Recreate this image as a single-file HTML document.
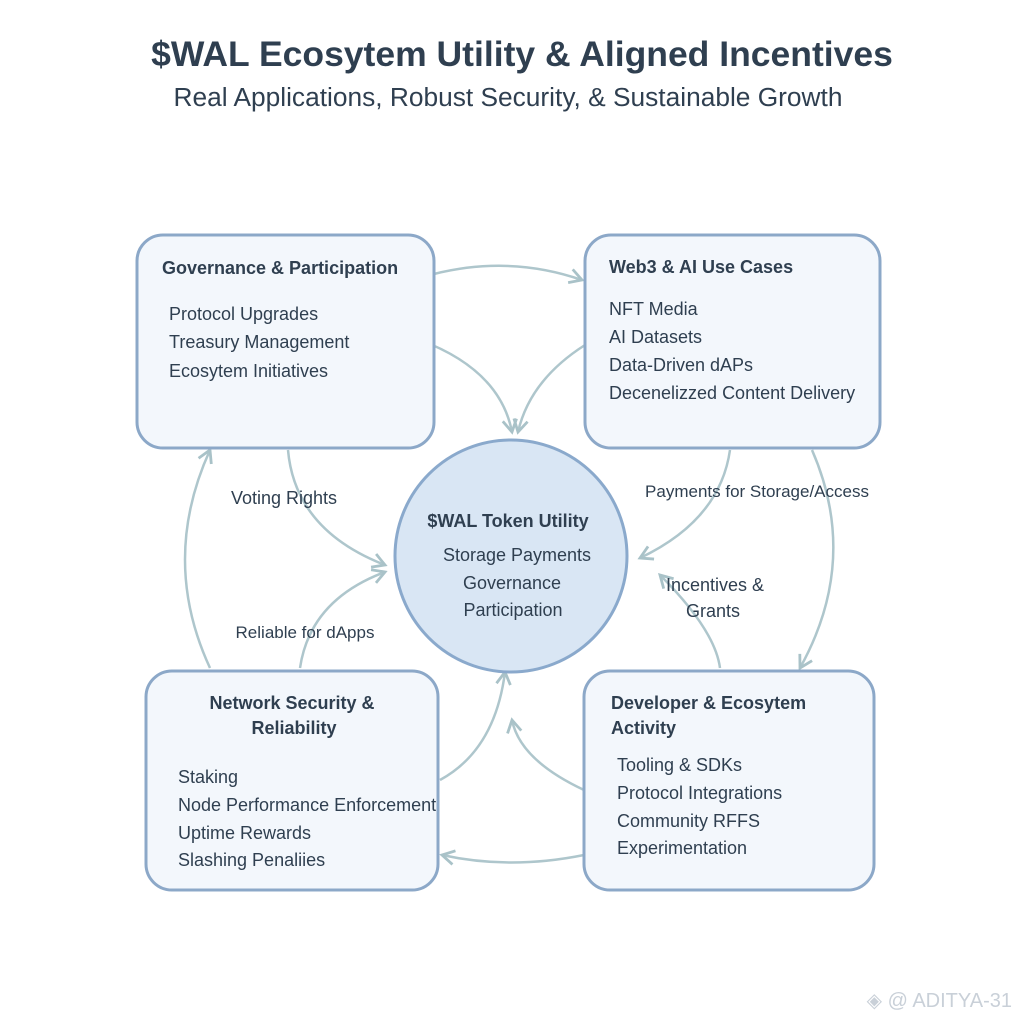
<!DOCTYPE html>
<html><head><meta charset="utf-8"><style>
html,body{margin:0;padding:0;background:#fff}
svg{display:block}
text{font-family:"Liberation Sans","DejaVu Sans",sans-serif;fill:#2f3f50}
</style></head><body>
<svg width="1024" height="1024" viewBox="0 0 1024 1024" xmlns="http://www.w3.org/2000/svg">
<defs>
<marker id="a" viewBox="0 0 10 10" refX="8" refY="5" markerWidth="7" markerHeight="7" orient="auto-start-reverse">
<path d="M1,1 L8,5 L1,9" fill="none" stroke="#a9c2c8" stroke-width="1.6"/>
</marker>
</defs>
<text x="522" y="66" text-anchor="middle" font-size="35.5" font-weight="bold" fill="#2b3f52">$WAL Ecosytem Utility &amp; Aligned Incentives</text>
<text x="508" y="106" text-anchor="middle" font-size="26.3">Real Applications, Robust Security, &amp; Sustainable Growth</text>

<g fill="none" stroke="#aec6cc" stroke-width="2.5" marker-end="url(#a)">
<path d="M434,274 Q510,255 582,280"/>
<path d="M420,340 Q500,370 512,432"/>
<path d="M585,345 Q530,380 518,432"/>
<path d="M288,450 Q295,530 385,565"/>
<path d="M300,668 Q310,600 385,572"/>
<path d="M210,668 Q160,560 210,450"/>
<path d="M730,450 Q720,520 640,558"/>
<path d="M812,450 Q860,560 800,668"/>
<path d="M720,668 Q715,630 660,575"/>
<path d="M440,780 Q495,750 505,672"/>
<path d="M584,790 Q520,760 512,720"/>
<path d="M584,855 Q510,870 442,855"/>
</g>

<g fill="#f3f7fc" stroke="#8ca8c8" stroke-width="3">
<rect x="137" y="235" width="297" height="213" rx="26"/>
<rect x="585" y="235" width="295" height="213" rx="26"/>
<rect x="146" y="671" width="292" height="219" rx="26"/>
<rect x="584" y="671" width="290" height="219" rx="26"/>
</g>
<circle cx="511" cy="556" r="116" fill="#d9e6f4" stroke="#8aa9cc" stroke-width="3"/>

<g font-size="18">
<text x="162" y="274" font-weight="bold">Governance &amp; Participation</text>
<text x="169" y="320">Protocol Upgrades</text>
<text x="169" y="348">Treasury Management</text>
<text x="169" y="377">Ecosytem Initiatives</text>

<text x="609" y="273" font-weight="bold">Web3 &amp; AI Use Cases</text>
<text x="609" y="315">NFT Media</text>
<text x="609" y="343">AI Datasets</text>
<text x="609" y="371">Data-Driven dAPs</text>
<text x="609" y="399">Decenelizzed Content Delivery</text>

<text x="292" y="709" text-anchor="middle" font-weight="bold">Network Security &amp;</text>
<text x="294" y="734" text-anchor="middle" font-weight="bold">Reliability</text>
<text x="178" y="783">Staking</text>
<text x="178" y="811">Node Performance Enforcement</text>
<text x="178" y="839">Uptime Rewards</text>
<text x="178" y="866">Slashing Penaliies</text>

<text x="611" y="709" font-weight="bold">Developer &amp; Ecosytem</text>
<text x="611" y="734" font-weight="bold">Activity</text>
<text x="617" y="771">Tooling &amp; SDKs</text>
<text x="617" y="799">Protocol Integrations</text>
<text x="617" y="827">Community RFFS</text>
<text x="617" y="854">Experimentation</text>

<text x="508" y="527" text-anchor="middle" font-weight="bold">$WAL Token Utility</text>
<text x="517" y="561" text-anchor="middle">Storage Payments</text>
<text x="512" y="589" text-anchor="middle">Governance</text>
<text x="513" y="616" text-anchor="middle">Participation</text>

<text x="284" y="504" text-anchor="middle">Voting Rights</text>
<text x="305" y="638" text-anchor="middle" font-size="17">Reliable for dApps</text>
<text x="757" y="497" text-anchor="middle" font-size="17">Payments for Storage/Access</text>
<text x="715" y="591" text-anchor="middle">Incentives &amp;</text>
<text x="713" y="617" text-anchor="middle">Grants</text>
</g>
<text x="1012" y="1007" text-anchor="end" font-size="20" style="fill:#c9d0d8">◈ @ ADITYA-31</text>
</svg>
</body></html>
